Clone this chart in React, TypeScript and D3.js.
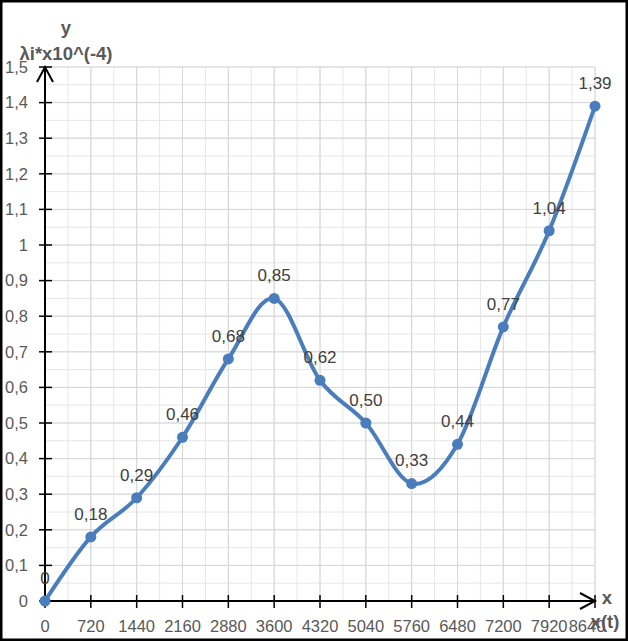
import React from "react";
import * as d3 from "d3";

const xValues = [0, 720, 1440, 2160, 2880, 3600, 4320, 5040, 5760, 6480, 7200, 7920, 8640];
const yValues = [0, 0.18, 0.29, 0.46, 0.68, 0.85, 0.62, 0.5, 0.33, 0.44, 0.77, 1.04, 1.39];
const pointLabels = ["0", "0,18", "0,29", "0,46", "0,68", "0,85", "0,62", "0,50", "0,33", "0,44", "0,77", "1,04", "1,39"];
const xTicks = [0, 720, 1440, 2160, 2880, 3600, 4320, 5040, 5760, 6480, 7200, 7920, 8640];
const yTicks = [0, 0.1, 0.2, 0.3, 0.4, 0.5, 0.6, 0.7, 0.8, 0.9, 1, 1.1, 1.2, 1.3, 1.4, 1.5];
const yTitleTop = "y";
const yTitle = "λi*x10^(-4)";
const xTitleTop = "x";
const xTitle = "x(t)";

const W = 628;
const H = 641;
const FONT = "'Liberation Sans', Arial, sans-serif";
const BLUE = "#4a7dbb";

export default function App() {
  const x = d3.scaleLinear().domain([0, 8640]).range([45, 595]);
  const y = d3.scaleLinear().domain([0, 1.5]).range([601, 67]);
  const minorX = d3.range(0, 8640 + 1, 360);
  const minorY = d3.range(0, 31).map((i) => i * 0.05);
  const line = d3
    .line<number>()
    .x((_, i) => x(xValues[i]))
    .y((d) => y(d))
    .curve(d3.curveCardinal.tension(0));
  const fmtY = (v: number) => String(+v.toFixed(1)).replace(".", ",");
  const x0 = x(0);
  const y0 = y(0);
  const xEnd = x(8640);
  const yTop = y(1.5);

  return (
    <svg
      width={W}
      height={H}
      style={{ position: "absolute", left: 0, top: 0, background: "#fff" }}
      fontFamily={FONT}
    >
      <rect x={1.25} y={1.25} width={W - 2.5} height={H - 2.5} fill="#fff" stroke="#000" strokeWidth={2.5} />
      {minorX.map((v) => (
        <line key={"mx" + v} x1={x(v)} x2={x(v)} y1={yTop} y2={y0} stroke="#e6e6e6" strokeWidth={1} />
      ))}
      {minorY.map((v) => (
        <line key={"my" + v} x1={x0} x2={xEnd} y1={y(v)} y2={y(v)} stroke="#e6e6e6" strokeWidth={1} />
      ))}
      {xTicks.map((v) => (
        <line key={"gx" + v} x1={x(v)} x2={x(v)} y1={yTop} y2={y0} stroke="#d6d6d6" strokeWidth={1} />
      ))}
      {yTicks.map((v) => (
        <line key={"gy" + v} x1={x0} x2={xEnd} y1={y(v)} y2={y(v)} stroke="#d6d6d6" strokeWidth={1} />
      ))}
      <line x1={x0} x2={x0} y1={y0} y2={yTop} stroke="#000" strokeWidth={2} />
      <line x1={x0} x2={xEnd} y1={y0} y2={y0} stroke="#000" strokeWidth={2} />
      <polyline
        points={`${x0 - 8},${yTop + 15} ${x0},${yTop} ${x0 + 8},${yTop + 15}`}
        fill="none"
        stroke="#000"
        strokeWidth={2}
      />
      <polyline
        points={`${xEnd - 15},${y0 - 8} ${xEnd},${y0} ${xEnd - 15},${y0 + 8}`}
        fill="none"
        stroke="#000"
        strokeWidth={2}
      />
      {yTicks.map((v) => (
        <line key={"ty" + v} x1={x0 - 6} x2={x0 + 7} y1={y(v)} y2={y(v)} stroke="#000" strokeWidth={1.5} />
      ))}
      {xTicks.map((v) => (
        <line key={"tx" + v} x1={x(v)} x2={x(v)} y1={y0 - 6} y2={y0 + 7} stroke="#000" strokeWidth={1.5} />
      ))}
      {yTicks.map((v) => (
        <text key={"ly" + v} x={28} y={y(v)} dy="0.35em" textAnchor="end" fontSize={16.5} fill="#595959">
          {fmtY(v)}
        </text>
      ))}
      {xTicks.map((v, i) => (
        <text
          key={"lx" + v}
          x={i === xTicks.length - 1 ? x(v) - 8 : x(v)}
          y={626}
          dy="0.35em"
          textAnchor="middle"
          fontSize={16.5}
          fill="#595959"
        >
          {v}
        </text>
      ))}
      <text x={66} y={28} dy="0.35em" textAnchor="middle" fontSize={18.5} fontWeight="bold" fill="#595959">
        {yTitleTop}
      </text>
      <text x={66} y={54} dy="0.35em" textAnchor="middle" fontSize={18.5} fontWeight="bold" fill="#595959">
        {yTitle}
      </text>
      <text x={607} y={598} dy="0.35em" textAnchor="middle" fontSize={18.5} fontWeight="bold" fill="#595959">
        {xTitleTop}
      </text>
      <text x={605} y={622} dy="0.35em" textAnchor="middle" fontSize={18.5} fontWeight="bold" fill="#595959">
        {xTitle}
      </text>
      <path d={line(yValues) || ""} fill="none" stroke={BLUE} strokeWidth={4} strokeLinejoin="round" />
      {yValues.map((v, i) => (
        <circle key={"p" + i} cx={x(xValues[i])} cy={y(v)} r={5.5} fill={BLUE} />
      ))}
      {yValues.map((v, i) => (
        <text
          key={"dl" + i}
          x={x(xValues[i])}
          y={y(v) - 23}
          dy="0.35em"
          textAnchor="middle"
          fontSize={17}
          fill="#404040"
        >
          {pointLabels[i]}
        </text>
      ))}
    </svg>
  );
}
